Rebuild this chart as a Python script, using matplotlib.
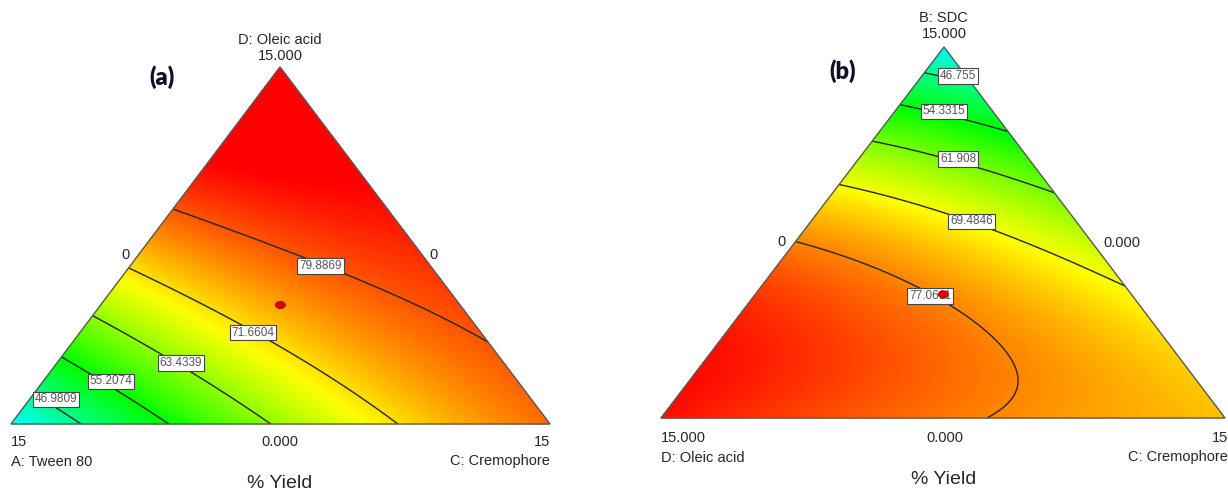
import numpy as np
import matplotlib.pyplot as plt
import matplotlib.tri as mtri
from matplotlib.colors import LinearSegmentedColormap
from matplotlib.patches import Ellipse, Polygon

W, H = 1228, 493

# contour levels printed on the two % Yield plots
levels_a = [46.9809, 55.2074, 63.4339, 71.6604, 79.8869]
levels_b = [46.755, 54.3315, 61.908, 69.4846, 77.0611]

# (a) left = A: Tween 80, right = C: Cremophore, top = D: Oleic acid
# points on the contours given as (right, top) fractions with their yield
a_right = [0.0, 0.0, 0.0, 0.0, 0.0,
           0.132, 0.288, 0.473, 0.714, 0.770,
           0.049, 0.126, 0.230, 0.321, 0.353,
           0.0, 1.0, 0.0]
a_top = [0.081, 0.188, 0.300, 0.429, 0.605,
         0.0, 0.0, 0.0, 0.0, 0.230,
         0.069, 0.119, 0.171, 0.256, 0.443,
         0.0, 0.0, 1.0]
a_yield = [46.9809, 55.2074, 63.4339, 71.6604, 79.8869,
           46.9809, 55.2074, 63.4339, 71.6604, 79.8869,
           46.9809, 55.2074, 63.4339, 71.6604, 79.8869,
           40.5, 78.4, 91.0]

# (b) left = D: Oleic acid, right = C: Cremophore, top = B: SDC
b_right = [0.0, 0.0, 0.0, 0.0, 0.0,
           0.108, 0.237, 0.396, 0.633,
           0.598, 0.597, 0.577, 0.525, 0.450,
           0.064, 0.087, 0.176, 0.285, 0.312,
           0.0, 1.0, 0.0]
b_top = [0.927, 0.841, 0.744, 0.628, 0.480,
         0.892, 0.763, 0.604, 0.367,
         0.0, 0.040, 0.094, 0.165, 0.237,
         0.922, 0.826, 0.698, 0.530, 0.329,
         0.0, 0.0, 1.0]
b_yield = [46.755, 54.3315, 61.908, 69.4846, 77.0611,
           46.755, 54.3315, 61.908, 69.4846,
           77.0611, 77.0611, 77.0611, 77.0611, 77.0611,
           46.755, 54.3315, 61.908, 69.4846, 77.0611,
           84.0, 73.5, 40.0]

# Design-Expert style ramp
ramp = LinearSegmentedColormap.from_list(
    "de", [(0.0, "#0000ff"), (0.25, "#00ffff"), (0.5, "#00ff00"),
           (0.75, "#ffff00"), (1.0, "#ff0000")])
VMIN, VMAX = 25, 85


def basis(l, r, t, order):
    cols = [l, r, t, l * r, l * t, r * t]
    if order == 3:
        cols += [l * r * t, l * r * (l - r), l * t * (l - t), r * t * (r - t)]
    return np.column_stack(cols)


def fit_surface(right, top, y, order):
    r = np.asarray(right)
    t = np.asarray(top)
    l = 1 - r - t
    coef, *_ = np.linalg.lstsq(basis(l, r, t, order), np.asarray(y), rcond=None)
    return coef


def to_px(corners, l, r, t):
    (xl, yl), (xr, yr), (xt, yt) = corners
    return l * xl + r * xr + t * xt, l * yl + r * yr + t * yt


def draw_ternary(ax, corners, right, top, y, levels, label_xy, order):
    coef = fit_surface(right, top, y, order)
    n = 160
    rr, tt = [], []
    for i in range(n + 1):
        for j in range(n + 1 - i):
            rr.append(i / n)
            tt.append(j / n)
    rr = np.array(rr)
    tt = np.array(tt)
    ll = 1 - rr - tt
    z = basis(ll, rr, tt, order) @ coef
    px, py = to_px(corners, ll, rr, tt)
    tri = mtri.Triangulation(px, py)
    ax.tripcolor(tri, z, shading="gouraud", cmap=ramp, vmin=VMIN, vmax=VMAX,
                 zorder=1)
    ax.tricontour(tri, z, levels=levels, colors="#262626", linewidths=1.0,
                  zorder=2)
    ax.add_patch(Polygon(corners, closed=True, fill=False, edgecolor="#5a5a5a",
                         linewidth=1.0, zorder=3))
    for lev, (lx, ly) in zip(levels, label_xy):
        ax.text(lx, ly, f"{lev:g}", fontsize=8.5, color="#555555",
                ha="center", va="center", zorder=4,
                bbox=dict(boxstyle="square,pad=0.15", facecolor="white",
                          edgecolor="#444444", linewidth=0.8))
    # design centroid
    cx, cy = to_px(corners, 1 / 3, 1 / 3, 1 / 3)
    ax.add_patch(Ellipse((cx, cy), 10, 7, facecolor="#e00000",
                         edgecolor="#a00000", linewidth=0.6, zorder=5))


plt.rcParams["font.family"] = ["Liberation Sans", "DejaVu Sans"]
fig = plt.figure(figsize=(W / 100, H / 100), dpi=100)
ax = fig.add_axes([0, 0, 1, 1])
ax.set_xlim(0, W)
ax.set_ylim(H, 0)
ax.axis("off")

corners_a = [(11, 424), (550, 424), (280, 67)]
corners_b = [(661, 418), (1225, 418), (944, 47)]

labels_a = [(56, 399.5), (111, 381.5), (181, 363), (253, 332.5), (320.5, 266)]
labels_b = [(958, 76), (944, 111.5), (958, 159), (971.5, 221.5), (930, 296)]

draw_ternary(ax, corners_a, a_right, a_top, a_yield, levels_a, labels_a, 2)
draw_ternary(ax, corners_b, b_right, b_top, b_yield, levels_b, labels_b, 3)

tc = "#262626"
fs = 10.5
txt = [
    # panel (a)
    (280, 40, "D: Oleic acid", "center"), (280, 55.5, "15.000", "center"),
    (125, 255, "0", "center"), (434, 255, "0", "center"),
    (11, 442, "15", "left"), (11, 461.5, "A: Tween 80", "left"),
    (280, 442, "0.000", "center"),
    (550, 442, "15", "right"), (550, 461.5, "C: Cremophore", "right"),
    # panel (b)
    (943, 18, "B: SDC", "center"), (944, 34, "15.000", "center"),
    (782, 242, "0", "center"), (1122, 243, "0.000", "center"),
    (661, 437.5, "15.000", "left"), (661, 457.5, "D: Oleic acid", "left"),
    (945, 437.5, "0.000", "center"),
    (1228, 437.5, "15", "right"), (1228, 457.5, "C: Cremophore", "right"),
]
for x, y, s, ha in txt:
    ax.text(x, y, s, fontsize=fs, color=tc, ha=ha, va="center")

ax.text(280, 484, "% Yield", fontsize=14, color=tc, ha="center", va="center")
ax.text(944, 480, "% Yield", fontsize=14, color=tc, ha="center", va="center")

ax.text(162, 77, "(a)", fontsize=17, fontweight="heavy", family="Lato",
        color="#10102a", ha="center", va="center")
ax.text(843, 71, "(b)", fontsize=17, fontweight="heavy", family="Lato",
        color="#10102a", ha="center", va="center")

fig.savefig("out.png", dpi=100)
